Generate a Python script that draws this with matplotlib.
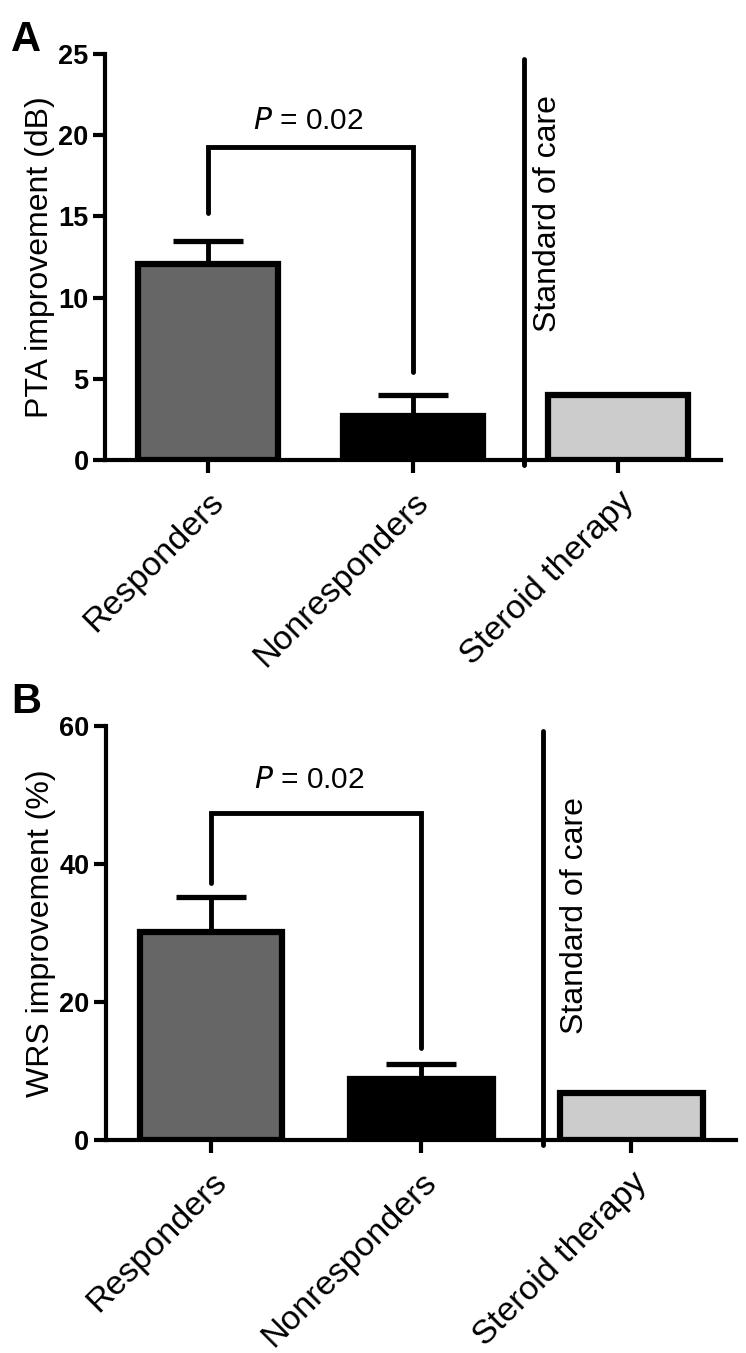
import numpy as np
import matplotlib.pyplot as plt

plt.rcParams['font.family'] = ['Liberation Sans', 'DejaVu Sans']

# Data
groups = ['Responders', 'Nonresponders', 'Steroid therapy']
colors = ['#666666', '#000000', '#cccccc']

pta_mean = [12.1, 2.7, 4.0]
pta_err = [1.4, 1.3, 0.0]

wrs_mean = [30.1, 8.8, 6.8]
wrs_err = [5.1, 2.2, 0.0]

p_label = '$P$ = 0.02'

fig = plt.figure(figsize=(7.46, 13.53), dpi=100)
ax_a = fig.add_axes([0.141, 0.660, 0.825, 0.300])
ax_b = fig.add_axes([0.142, 0.1574, 0.845, 0.306])


def draw_panel(ax, means, errs, ymax, yticks, ylabel, bracket, p_pos, soc_x, soc_text):
    x = np.arange(len(groups))
    ax.bar(x, means, width=0.68, color=colors, edgecolor='black', linewidth=4.5, zorder=2)
    ax.errorbar(x[:2], means[:2], yerr=[[0, 0], errs[:2]], fmt='none', ecolor='black',
                elinewidth=3.5, capsize=25, capthick=3.8, zorder=1)
    # significance bracket
    y_left, y_top, y_right = bracket
    ax.plot([0, 0, 1, 1], [y_left, y_top, y_top, y_right], color='black', lw=3.5,
            solid_capstyle='round', solid_joinstyle='miter')
    ax.text(p_pos[0], p_pos[1], p_label, ha='center', va='center', fontsize=21.5)
    # standard of care divider
    ax.plot([soc_x, soc_x], [-0.012 * ymax, 0.988 * ymax], color='black', lw=3.5,
            clip_on=False, solid_capstyle='round')
    ax.text(soc_text[0], soc_text[1], 'Standard of care', rotation=90,
            ha='center', va='center', fontsize=23)

    ax.set_xlim(-0.5, 2.5)
    ax.set_ylim(0, ymax)
    ax.set_yticks(yticks)
    ax.set_xticks(x)
    ax.set_xticklabels(groups, rotation=45, ha='right', va='top',
                       rotation_mode='anchor', fontsize=24.5)
    for lab in ax.get_yticklabels():
        lab.set_fontweight('bold')
        lab.set_fontsize(19.5)
    ax.set_ylabel(ylabel, fontsize=23, labelpad=2)
    ax.spines['top'].set_visible(False)
    ax.spines['right'].set_visible(False)
    ax.spines['left'].set_linewidth(3)
    ax.spines['bottom'].set_linewidth(3)
    ax.tick_params(axis='both', width=3, length=9, pad=3)
    ax.tick_params(axis='x', pad=10)


draw_panel(ax_a, pta_mean, pta_err, 25, [0, 5, 10, 15, 20, 25],
           'PTA improvement (dB)', (15.2, 19.25, 5.4), (0.49, 20.9), 1.54, (1.66, 15.2))
draw_panel(ax_b, wrs_mean, wrs_err, 60, [0, 20, 40, 60],
           'WRS improvement (%)', (37.2, 47.4, 13.3), (0.47, 52.2), 1.58, (1.73, 32.6))

fig.text(0.015, 0.985, 'A', fontsize=30, fontweight='bold', va='top', ha='left')
fig.text(0.015, 0.496, 'B', fontsize=30, fontweight='bold', va='top', ha='left')

plt.savefig('out.png', dpi=100)
